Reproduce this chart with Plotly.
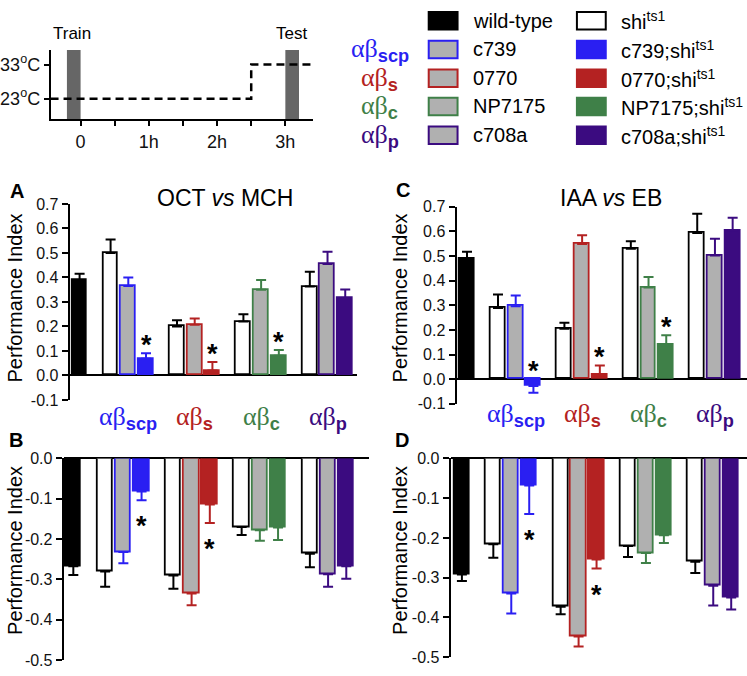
import plotly.graph_objects as go

W, H = 747, 676

# ---------------- data ----------------
bar_labels = ["wild-type", "shi", "c739", "c739;shi", "shi", "0770", "0770;shi",
              "shi", "NP7175", "NP7175;shi", "shi", "c708a", "c708a;shi"]
group_names = ["scp", "s", "c", "p"]

pi_A = [0.39, 0.50, 0.365, 0.068, 0.20, 0.207, 0.02, 0.22, 0.35, 0.08, 0.363, 0.455, 0.316]
sem_A = [0.025, 0.055, 0.035, 0.022, 0.025, 0.025, 0.035, 0.03, 0.04, 0.024, 0.06, 0.05, 0.035]
pi_B = [-0.267, -0.28, -0.232, -0.082, -0.29, -0.335, -0.114, -0.17, -0.178, -0.171, -0.236, -0.287, -0.267]
sem_B = [0.022, 0.038, 0.028, 0.022, 0.033, 0.029, 0.046, 0.02, 0.026, 0.031, 0.034, 0.031, 0.031]
pi_C = [0.49, 0.289, 0.296, -0.028, 0.205, 0.549, 0.016, 0.53, 0.372, 0.138, 0.594, 0.502, 0.604]
sem_C = [0.028, 0.055, 0.044, 0.027, 0.024, 0.036, 0.04, 0.03, 0.043, 0.04, 0.078, 0.068, 0.052]
pi_D = [-0.292, -0.216, -0.34, -0.068, -0.373, -0.448, -0.254, -0.22, -0.238, -0.193, -0.26, -0.32, -0.35]
sem_D = [0.016, 0.034, 0.05, 0.072, 0.019, 0.025, 0.023, 0.028, 0.025, 0.02, 0.028, 0.05, 0.03]

sig_A = [3, 6, 9]
sig_B = [3, 6]
sig_C = [3, 6, 9]
sig_D = [3, 6]

ticks_top = [-0.1, 0.0, 0.1, 0.2, 0.3, 0.4, 0.5, 0.6, 0.7]
ticks_top_text = ["-0.1", "0.0", "0.1", "0.2", "0.3", "0.4", "0.5", "0.6", "0.7"]
ticks_bot = [-0.5, -0.4, -0.3, -0.2, -0.1, 0.0]
ticks_bot_text = ["-0.5", "-0.4", "-0.3", "-0.2", "-0.1", "0.0"]

# timeline
temp_time = [-0.44, 2.5, 2.5, 3.41]
temp_c = [23, 23, 33, 33]
train_window = [-0.2, 0.0]
test_window = [3.0, 3.2]
time_ticks = [0, 0.5, 1, 1.5, 2, 2.5, 3]
time_tick_text = ["0", "", "1h", "", "2h", "", "3h"]
temp_ticks = [23, 33]
temp_tick_text = ["23<sup>o</sup>C", "33<sup>o</sup>C"]

legend_col1 = ["wild-type", "c739", "0770", "NP7175", "c708a"]
legend_col2 = ["shi<sup>ts1</sup>", "c739;shi<sup>ts1</sup>", "0770;shi<sup>ts1</sup>",
               "NP7175;shi<sup>ts1</sup>", "c708a;shi<sup>ts1</sup>"]

# ---------------- styles ----------------
FONT = "Liberation Sans, Arial, sans-serif"
SERIF = "Liberation Serif, Times New Roman, serif"
BLACK = "#000000"
GRAY = "#b0b0b0"
GCOL = ["#2a1ff2", "#b42222", "#3f8048", "#3b0b80"]


def X(px):
    return px / W


def Y(py):
    return 1 - py / H


def bar_style(i):
    if i == 0:
        return BLACK, BLACK
    g, k = divmod(i - 1, 3)
    if k == 0:
        return "#ffffff", BLACK
    if k == 1:
        return GRAY, GCOL[g]
    return GCOL[g], GCOL[g]


def bar_pos(i):
    if i == 0:
        return 0.0
    g, k = divmod(i - 1, 3)
    return 2.75 + 3.75 * g + (k - 1)


group_centers = [2.75 + 3.75 * g for g in range(4)]

fig = go.Figure()

panels = [
    ("x", "y", pi_A, sem_A, sig_A, True),
    ("x2", "y2", pi_B, sem_B, sig_B, False),
    ("x3", "y3", pi_C, sem_C, sig_C, True),
    ("x4", "y4", pi_D, sem_D, sig_D, False),
]

annotations = []

for xa, ya, vals, sems, sig, top in panels:
    for i, (v, e) in enumerate(zip(vals, sems)):
        fill, line = bar_style(i)
        up = e if v >= 0 else 0.0
        down = e if v < 0 else 0.0
        fig.add_trace(go.Bar(
            x=[bar_pos(i)], y=[v], width=0.84, xaxis=xa, yaxis=ya,
            marker=dict(color=fill, line=dict(color=line, width=1.8)),
            error_y=dict(type="data", symmetric=False, array=[up], arrayminus=[down],
                         color=line, thickness=2, width=5),
            showlegend=False, name=bar_labels[i], hoverinfo="skip"))
    for i in sig:
        v, e = vals[i], sems[i]
        if top:
            anchor = max(0.0, v + (e if v > 0 else 0.0))
            ysh = 8
        else:
            anchor = min(0.0, v - (e if v < 0 else 0.0))
            ysh = -26
        annotations.append(dict(x=bar_pos(i), y=anchor, xref=xa, yref=ya, text="<b>*</b>",
                                showarrow=False, yshift=ysh, yanchor="middle",
                                font=dict(size=27, color=BLACK, family=FONT)))

# timeline trace
fig.add_trace(go.Scatter(x=temp_time, y=temp_c, mode="lines", xaxis="x5", yaxis="y5",
                         line=dict(color=BLACK, width=2.5, dash="8px,5px"),
                         showlegend=False, hoverinfo="skip"))

shapes = []
for win in (train_window, test_window):
    shapes.append(dict(type="rect", xref="x5", yref="y5 domain", x0=win[0], x1=win[1],
                       y0=0, y1=1, fillcolor="#666666", line=dict(width=0), layer="below"))

axis_common = dict(showgrid=False, zeroline=False)
yax_common = dict(showgrid=False, showline=True, linecolor=BLACK, linewidth=2,
                  ticks="outside", ticklen=6, tickwidth=2, tickcolor=BLACK,
                  tickfont=dict(size=16, color="#111111", family=FONT),
                  zeroline=True, zerolinecolor=BLACK, zerolinewidth=2)

fig.update_layout(
    width=W, height=H, margin=dict(l=0, r=0, t=0, b=0),
    paper_bgcolor="white", plot_bgcolor="white",
    font=dict(family=FONT, color=BLACK),
    bargap=0,
    xaxis=dict(domain=[X(66), X(355)], range=[-0.562, 15.67], visible=False, anchor="y", **axis_common),
    yaxis=dict(domain=[Y(402), Y(201)], range=[-0.1, 0.7], anchor="x",
               tickvals=ticks_top, ticktext=ticks_top_text, **yax_common),
    xaxis2=dict(domain=[X(60), X(367)], range=[-0.53, 16.25], visible=False, anchor="y2", **axis_common),
    yaxis2=dict(domain=[Y(669), Y(462)], range=[-0.5, 0.0], anchor="x2",
                tickvals=ticks_bot, ticktext=ticks_bot_text, **yax_common),
    xaxis3=dict(domain=[X(455), X(747)], range=[-0.59, 15.81], visible=False, anchor="y3", **axis_common),
    yaxis3=dict(domain=[Y(406), Y(204)], range=[-0.1, 0.7], anchor="x3",
                tickvals=ticks_top, ticktext=ticks_top_text, **yax_common),
    xaxis4=dict(domain=[X(449), X(747)], range=[-0.63, 15.88], visible=False, anchor="y4", **axis_common),
    yaxis4=dict(domain=[Y(666), Y(462)], range=[-0.5, 0.0], anchor="x4",
                tickvals=ticks_bot, ticktext=ticks_bot_text, **yax_common),
    xaxis5=dict(domain=[X(47), X(311)], range=[-0.437, 3.41], anchor="y5",
                showline=True, linecolor=BLACK, linewidth=2, ticks="outside", ticklen=5,
                tickwidth=1.5, tickcolor=BLACK, tickvals=time_ticks, ticktext=time_tick_text,
                tickfont=dict(size=18, family=FONT, color="#111111"), **axis_common),
    yaxis5=dict(domain=[Y(114), Y(43)], range=[17.0, 37.3], anchor="x5",
                showline=True, linecolor=BLACK, linewidth=2, ticks="outside", ticklen=5,
                tickwidth=2, tickcolor=BLACK, tickvals=temp_ticks, ticktext=temp_tick_text,
                tickfont=dict(size=18, family=FONT, color="#111111"), **axis_common),
)

# ---- text annotations ----
def txt(x, y, text, size, color=BLACK, family=FONT, xanchor="center", yanchor="middle", angle=0):
    annotations.append(dict(x=X(x), y=Y(y), xref="paper", yref="paper", text=text,
                            showarrow=False, xanchor=xanchor, yanchor=yanchor, textangle=angle,
                            font=dict(size=size, color=color, family=family)))

# Train / Test labels
txt(68, 26, "Train", 17)
txt(289, 26, "Test", 17)

# panel letters
txt(13, 188, "<b>A</b>", 20)
txt(401, 187, "<b>C</b>", 20)
txt(12, 443, "<b>B</b>", 20)
txt(400, 443, "<b>D</b>", 20)

# panel titles
txt(222, 195, "OCT <i>vs</i> MCH", 23)
txt(610, 195, "IAA <i>vs</i> EB", 23)

# y titles
txt(11, 297, "Performance Index", 20, angle=-90)
txt(11, 556, "Performance Index", 20, angle=-90)
txt(398, 297, "Performance Index", 20, angle=-90)
txt(398, 556, "Performance Index", 20, angle=-90)


def ab_label(name):
    return ('αβ<sub><span style="font-family:Liberation Sans"><b>%s</b></span></sub>' % name)


# group labels below A and C
for xa, ypx in (("x", 421), ("x3", 418)):
    for g, name in enumerate(group_names):
        annotations.append(dict(x=group_centers[g], y=Y(ypx), xref=xa, yref="paper",
                                text=ab_label(name), showarrow=False, xanchor="center",
                                yanchor="middle", font=dict(size=26, color=GCOL[g], family=SERIF)))

# legend
rows = [13, 42.5, 72, 101, 130.5]
col1_fill = [(BLACK, BLACK)] + [(GRAY, c) for c in GCOL]
col2_fill = [("#ffffff", BLACK)] + [(c, c) for c in GCOL]
for r, yy in enumerate(rows):
    for (x0, x1), (fill, line) in (((426, 457), col1_fill[r]), ((575, 606), col2_fill[r])):
        shapes.append(dict(type="rect", xref="paper", yref="paper", x0=X(x0 + 1), x1=X(x1 - 1),
                           y0=Y(yy + 9), y1=Y(yy - 9), fillcolor=fill,
                           line=dict(color=line, width=2)))
    txt(470, yy, legend_col1[r], 20, xanchor="left")
    txt(618, yy, legend_col2[r], 20, xanchor="left")
    if r > 0:
        txt(378, yy + 1, ab_label(group_names[r - 1]), 26, color=GCOL[r - 1], family=SERIF)

fig.update_layout(annotations=annotations, shapes=shapes)

fig.write_html("out.html", post_script="document.body.style.margin='0';",
               config={"displayModeBar": False})
